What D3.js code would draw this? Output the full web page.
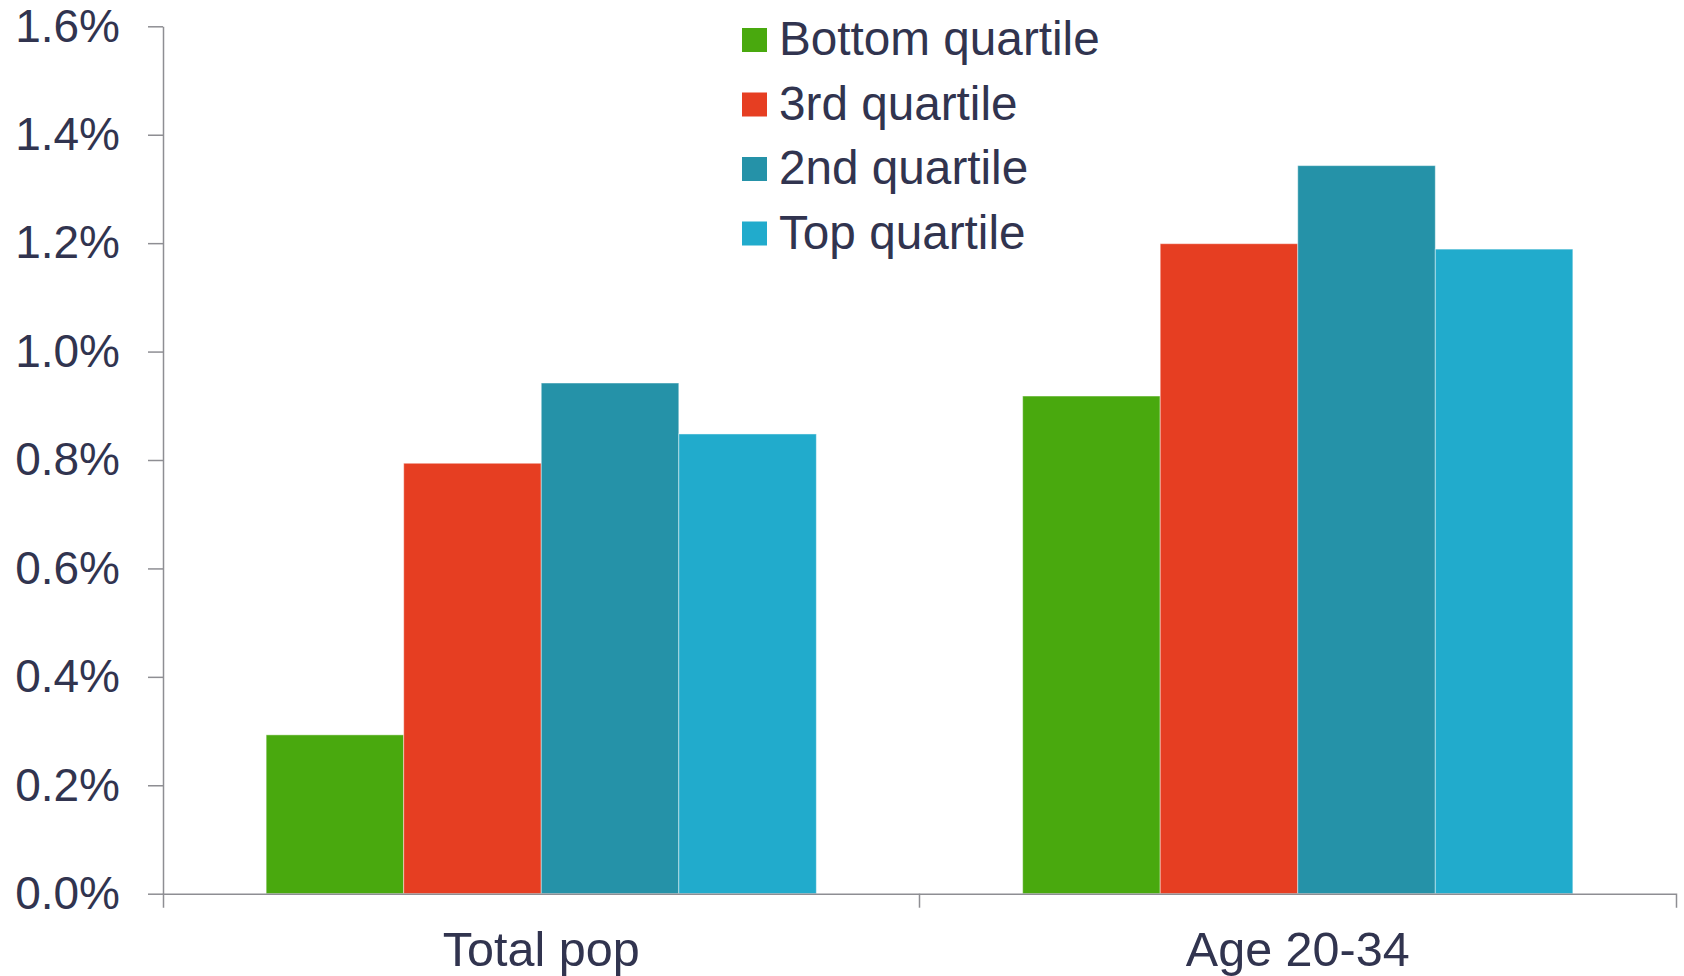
<!DOCTYPE html>
<html>
<head>
<meta charset="utf-8">
<script src="https://cdn.jsdelivr.net/npm/d3@7"></script>
<style>
  body { margin: 0; background: #fff; }
  text { font-family: "Liberation Sans", Arial, sans-serif; fill: #31344f; }
</style>
</head>
<body>
<div id="chart"></div>
<script>
var categories = ["Total pop", "Age 20-34"];
var seriesNames = ["Bottom quartile", "3rd quartile", "2nd quartile", "Top quartile"];
// values in %, one array per series (Total pop, Age 20-34)
var bottomQuartile = [0.293, 0.918];
var thirdQuartile = [0.794, 1.199];
var secondQuartile = [0.942, 1.343];
var topQuartile = [0.848, 1.189];
var yTicks = [0, 0.2, 0.4, 0.6, 0.8, 1.0, 1.2, 1.4, 1.6];

var seriesColors = ["#49a90e", "#e63e22", "#2592a8", "#21abcc"];
var seriesValues = [bottomQuartile, thirdQuartile, secondQuartile, topQuartile];

var W = 1684, H = 976;
var margin = {top: 26.3, right: 8, bottom: 82.3, left: 163};
var w = W - margin.left - margin.right;
var h = H - margin.top - margin.bottom;

var svg = d3.select("#chart")
    .append("svg")
    .attr("width", W)
    .attr("height", H);

var g = svg.append("g")
    .attr("transform", "translate(" + margin.left + "," + margin.top + ")");

var x0 = d3.scaleBand()
    .domain(categories)
    .range([0, w])
    .padding(0);

var x1 = d3.scaleBand()
    .domain(seriesNames)
    .range([0, x0.bandwidth()])
    .paddingInner(0)
    .paddingOuter(0.75);

var y = d3.scaleLinear()
    .domain([0, 1.6])
    .range([h, 0]);

// bars
var rows = categories.map(function(c, ci) {
    return seriesNames.map(function(s, si) {
        return {cat: c, series: s, value: seriesValues[si][ci], color: seriesColors[si]};
    });
});

g.selectAll("g.group")
    .data(rows)
    .enter()
    .append("g")
    .attr("class", "group")
    .attr("transform", function(d, i) { return "translate(" + x0(categories[i]) + ",0)"; })
    .selectAll("rect")
    .data(function(d) { return d; })
    .enter()
    .append("rect")
    .attr("x", function(d) { return x1(d.series); })
    .attr("width", x1.bandwidth())
    .attr("y", function(d) { return y(d.value); })
    .attr("height", function(d) { return h - y(d.value); })
    .attr("fill", function(d) { return d.color; })
    .attr("stroke", "rgba(255,255,255,0.45)")
    .attr("stroke-width", 1);

// y axis
var yAxis = g.append("g")
    .call(d3.axisLeft(y)
        .tickValues(yTicks)
        .tickFormat(function(d) { return d.toFixed(1) + "%"; })
        .tickSize(15)
        .tickSizeOuter(0)
        .tickPadding(28));
yAxis.selectAll("text")
    .attr("font-size", "46px")
    .attr("font-family", "Liberation Sans, Arial, sans-serif")
    .attr("fill", "#31344f");

// x axis
var xAxis = g.append("g")
    .attr("transform", "translate(0," + h + ")")
    .call(d3.axisBottom(x0)
        .tickSize(0)
        .tickSizeOuter(14)
        .tickPadding(38));
xAxis.selectAll("text")
    .attr("font-size", "48.5px")
    .attr("font-family", "Liberation Sans, Arial, sans-serif")
    .attr("fill", "#31344f");

// tick between the two categories
xAxis.selectAll("line.sep")
    .data(categories.slice(1))
    .enter()
    .append("line")
    .attr("class", "sep")
    .attr("x1", function(d) { return x0(d); })
    .attr("x2", function(d) { return x0(d); })
    .attr("y1", 0)
    .attr("y2", 14);

svg.selectAll(".domain, .tick line, line.sep")
    .attr("stroke", "#8e8e93")
    .attr("stroke-width", 1.5);

// legend
var legend = svg.append("g")
    .attr("transform", "translate(742,55)");

var items = legend.selectAll("g")
    .data(seriesNames)
    .enter()
    .append("g")
    .attr("transform", function(d, i) { return "translate(0," + (i * 64.5) + ")"; });

items.append("rect")
    .attr("x", 0)
    .attr("y", -27)
    .attr("width", 25)
    .attr("height", 24)
    .attr("fill", function(d, i) { return seriesColors[i]; });

items.append("text")
    .attr("x", 37)
    .attr("y", 0)
    .attr("font-size", "47.7px")
    .text(function(d) { return d; });
</script>
</body>
</html>
